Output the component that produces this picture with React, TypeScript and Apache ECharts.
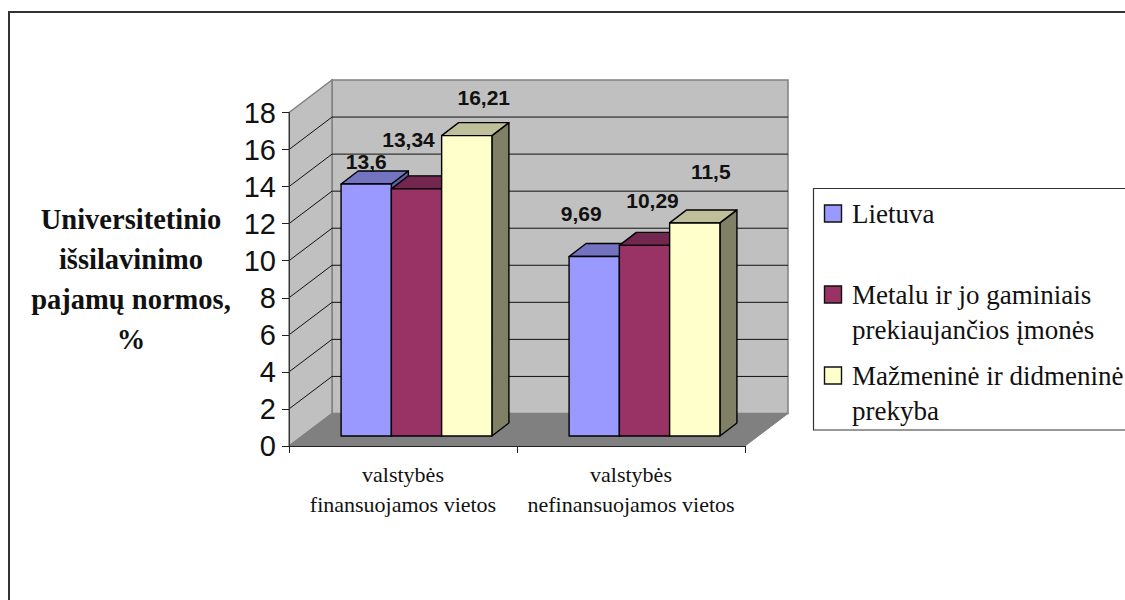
import React, { useEffect, useRef } from "react";
import * as echarts from "echarts";

// Chart content
const categories = ["valstybės\nfinansuojamos vietos", "valstybės\nnefinansuojamos vietos"];
const seriesNames = ["Lietuva", "Metalu ir jo gaminiais\nprekiaujančios įmonės", "Mažmeninė ir didmeninė\nprekyba"];
const lietuva = [13.6, 9.69];
const metalu = [13.34, 10.29];
const prekyba = [16.21, 11.5];
const yTicksMax = 18;
const yTicksStep = 2;
const yAxisTitle = "Universitetinio\nišsilavinimo\npajamų normos,\n%";

// Presentation
const frontColors = ["#9999ff", "#993366", "#ffffcc"];
const topColors = ["#7373bf", "#732650", "#bfbf99"];
const sideColors = ["#6060a8", "#4d1a33", "#808066"];
const labelNudges = [
  [[0, -23], [-13, -43]],
  [[-8, -49], [8, -45]],
  [[17, -38], [16, -51]],
];
const SANS = "'Liberation Sans', Arial, sans-serif";
const SERIF = "'Liberation Serif', 'Times New Roman', serif";
const WALL_DX = 43;
const WALL_DY = 32.5;
const BAR_INSET_X = 13.5;
const BAR_INSET_Y = 10;
const BAR_DX = 17;
const BAR_DY = 13;
const BAR_SHARE = 0.2205;

const formatValue = (v: number) => String(v).replace(".", ",");

// Back wall, side wall, floor and their gridlines
function renderWalls(params: any, api: any) {
  const cs = params.coordSys;
  const left = cs.x;
  const right = cs.x + cs.width;
  const top = cs.y;
  const bottom = cs.y + cs.height;
  const wallStyle = { fill: "#c0c0c0", stroke: "#808080", lineWidth: 1.5 };
  const children: any[] = [
    {
      type: "polygon",
      shape: { points: [[left + WALL_DX, top - WALL_DY], [right + WALL_DX, top - WALL_DY], [right + WALL_DX, bottom - WALL_DY], [left + WALL_DX, bottom - WALL_DY]] },
      style: wallStyle,
    },
    {
      type: "polygon",
      shape: { points: [[left, top], [left + WALL_DX, top - WALL_DY], [left + WALL_DX, bottom - WALL_DY], [left, bottom]] },
      style: wallStyle,
    },
    {
      type: "polygon",
      shape: { points: [[left, bottom], [right, bottom], [right + WALL_DX, bottom - WALL_DY], [left + WALL_DX, bottom - WALL_DY]] },
      style: { fill: "#808080", stroke: "#808080", lineWidth: 1 },
    },
  ];
  for (let v = yTicksStep; v < yTicksMax; v += yTicksStep) {
    const y = api.coord([0, v])[1];
    children.push({
      type: "polyline",
      shape: { points: [[left, y], [left + WALL_DX, y - WALL_DY], [right + WALL_DX, y - WALL_DY]] },
      style: { fill: "none", stroke: "#111111", lineWidth: 1 },
    });
  }
  return { type: "group", children };
}

// One extruded column with its value label
function barRenderer(seriesIdx: number) {
  return (_params: any, api: any) => {
    const cat = api.value(0);
    const val = api.value(1);
    const band = api.size([1, 0])[0];
    const w = band * BAR_SHARE;
    const x0 = api.coord([cat, 0])[0] + BAR_INSET_X - (3 * w) / 2 + seriesIdx * w;
    const x1 = x0 + w;
    const yBase = api.coord([cat, 0])[1] - BAR_INSET_Y;
    const yTop = api.coord([cat, val])[1] - BAR_INSET_Y;
    const edge = { stroke: "#000000", lineWidth: 1.4, lineJoin: "round" };
    const nudge = labelNudges[seriesIdx][cat];
    return {
      type: "group",
      children: [
        {
          type: "polygon",
          shape: { points: [[x1, yBase], [x1 + BAR_DX, yBase - BAR_DY], [x1 + BAR_DX, yTop - BAR_DY], [x1, yTop]] },
          style: { fill: sideColors[seriesIdx], ...edge },
        },
        {
          type: "polygon",
          shape: { points: [[x0, yTop], [x1, yTop], [x1 + BAR_DX, yTop - BAR_DY], [x0 + BAR_DX, yTop - BAR_DY]] },
          style: { fill: topColors[seriesIdx], ...edge },
        },
        {
          type: "rect",
          shape: { x: x0, y: yTop, width: w, height: yBase - yTop },
          style: { fill: frontColors[seriesIdx], ...edge },
        },
        {
          type: "text",
          style: {
            text: formatValue(val),
            x: (x0 + x1) / 2 + nudge[0],
            y: yTop + nudge[1],
            fill: "#111111",
            fontFamily: SANS,
            fontWeight: "bold",
            fontSize: 21,
            align: "center",
            verticalAlign: "middle",
          },
          z2: 10,
        },
      ],
    };
  };
}

// Legend box, swatches and labels
function legendGraphics() {
  const swatchTop = [205, 286, 367];
  const elements: any[] = [
    {
      type: "rect",
      shape: { x: 813.5, y: 188.5, width: 330, height: 241.5 },
      style: { fill: "#ffffff", stroke: "#333333", lineWidth: 1.2 },
    },
  ];
  seriesNames.forEach((name, i) => {
    elements.push({
      type: "rect",
      shape: { x: 824.5, y: swatchTop[i], width: 17, height: 17 },
      style: { fill: frontColors[i], stroke: "#111111", lineWidth: 1.4 },
    });
    elements.push({
      type: "text",
      x: 852,
      y: swatchTop[i] - 9,
      style: {
        text: name,
        fill: "#111111",
        fontFamily: SERIF,
        fontSize: 27,
        lineHeight: 35,
        align: "left",
        verticalAlign: "top",
      },
    });
  });
  return elements;
}

export default function App() {
  const ref = useRef<HTMLDivElement>(null);
  useEffect(() => {
    if (!ref.current) return;
    const chart = echarts.init(ref.current, undefined, { renderer: "svg" });
    const columns = [lietuva, metalu, prekyba];
    chart.setOption({
      animation: false,
      backgroundColor: "#ffffff",
      grid: { left: 289, top: 112.5, width: 456, height: 333.5, containLabel: false },
      xAxis: {
        type: "category",
        data: categories,
        z: 5,
        axisLine: { lineStyle: { color: "#222222", width: 1 } },
        axisTick: { show: true, length: 7, lineStyle: { color: "#222222" } },
        axisLabel: {
          interval: 0,
          margin: 13,
          fontFamily: SERIF,
          fontSize: 22,
          lineHeight: 30,
          color: "#111111",
        },
        splitLine: { show: false },
      },
      yAxis: {
        type: "value",
        min: 0,
        max: yTicksMax,
        interval: yTicksStep,
        z: 5,
        name: yAxisTitle,
        nameLocation: "middle",
        nameRotate: 0,
        nameGap: 158,
        nameTextStyle: {
          fontFamily: SERIF,
          fontWeight: "bold",
          fontSize: 28.5,
          lineHeight: 40,
          color: "#111111",
          align: "center",
          verticalAlign: "middle",
        },
        axisLine: { show: true, lineStyle: { color: "#333333", width: 1 } },
        axisTick: { show: true, length: 7, lineStyle: { color: "#222222" } },
        axisLabel: { margin: 13, fontFamily: SANS, fontSize: 29, color: "#111111" },
        splitLine: { show: false },
      },
      graphic: [
        {
          type: "polyline",
          shape: { points: [[9, 600], [9, 12], [1125, 12]] },
          style: { fill: "none", stroke: "#333333", lineWidth: 2 },
        },
        ...legendGraphics(),
      ],
      series: [
        {
          type: "custom",
          silent: true,
          clip: false,
          data: [[0, 0]],
          renderItem: renderWalls,
          z: 1,
        },
        ...columns.map((vals, s) => ({
          type: "custom",
          name: seriesNames[s],
          clip: false,
          encode: { x: 0, y: 1 },
          data: vals.map((v, i) => [i, v]),
          renderItem: barRenderer(s),
          z: 2 + s,
        })),
      ],
    });
    return () => chart.dispose();
  }, []);
  return <div ref={ref} style={{ position: "absolute", left: 0, top: 0, width: 1125, height: 600 }} />;
}
